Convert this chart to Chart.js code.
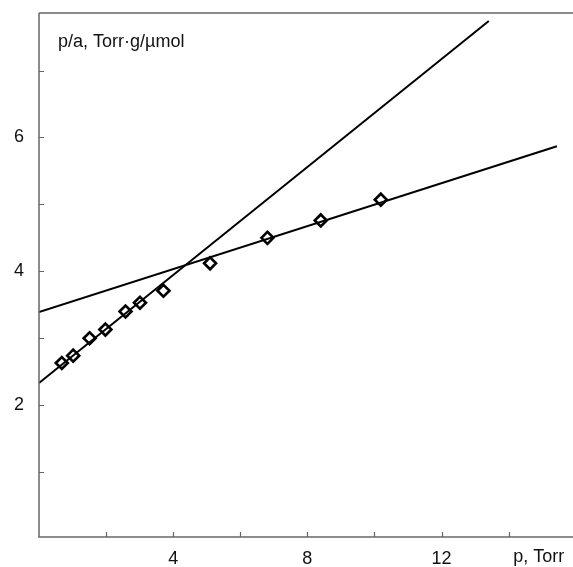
<!DOCTYPE html>
<html>
<head>
<meta charset="utf-8">
<script src="https://cdn.jsdelivr.net/npm/chart.js@4"></script>
<style>
html,body{margin:0;padding:0;background:#fff;}
#wrap{width:573px;height:567px;}
</style>
</head>
<body>
<div id="wrap"><canvas id="c" width="573" height="567"></canvas></div>
<script>
// Measured points (p, Torr ; p/a, Torr·g/µmol)
const pValues = [0.68, 1.02, 1.51, 1.98, 2.58, 3.01, 3.71, 5.10, 6.81, 8.40, 10.19];
const paValues = [2.63, 2.74, 3.00, 3.13, 3.40, 3.53, 3.71, 4.12, 4.50, 4.76, 5.07];
// Fitted straight lines (end points)
const line1X = [0, 13.41];
const line1Y = [2.33, 7.74];
const line2X = [0, 15.44];
const line2Y = [3.39, 5.87];
// Axes
const xTicks = [2, 4, 6, 8, 10, 12, 14];
const xTickLabels = ['', '4', '', '8', '', '12', ''];
const yTicks = [1, 2, 3, 4, 5, 6, 7];
const yTickLabels = ['', '2', '', '4', '', '6', ''];
const xMin = 0, xMax = 15.92, yMin = 0.03, yMax = 7.86;
const xAxisTitle = 'p, Torr';
const xAxisTitleAt = 14.9;
const yAxisTitle = 'p/a, Torr·g/µmol';

const toPts = (xs, ys) => xs.map((x, i) => ({x: x, y: ys[i]}));

const axesPlugin = {
  id: 'axesPlugin',
  afterDraw(chart) {
    const ctx = chart.ctx;
    const a = chart.chartArea;
    const xs = chart.scales.x, ys = chart.scales.y;
    ctx.save();
    ctx.strokeStyle = '#666';
    ctx.lineWidth = 1.5;
    ctx.beginPath();
    ctx.moveTo(a.left, a.top);
    ctx.lineTo(chart.width, a.top);
    ctx.moveTo(a.left, a.top);
    ctx.lineTo(a.left, a.bottom);
    ctx.lineTo(chart.width, a.bottom);
    ctx.stroke();
    ctx.lineWidth = 1.2;
    ctx.beginPath();
    xTicks.forEach(v => {
      const px = Math.round(xs.getPixelForValue(v)) + 0.5;
      ctx.moveTo(px, a.bottom);
      ctx.lineTo(px, a.bottom - 5);
    });
    yTicks.forEach(v => {
      const py = Math.round(ys.getPixelForValue(v)) + 0.5;
      ctx.moveTo(a.left, py);
      ctx.lineTo(a.left + 5, py);
    });
    ctx.stroke();
    ctx.fillStyle = '#111';
    ctx.font = '18px "Liberation Sans", Arial, sans-serif';
    ctx.textAlign = 'center';
    ctx.textBaseline = 'middle';
    xTicks.forEach((v, i) => {
      if (xTickLabels[i]) ctx.fillText(xTickLabels[i], xs.getPixelForValue(v), a.bottom + 22);
    });
    ctx.fillText(xAxisTitle, xs.getPixelForValue(xAxisTitleAt), a.bottom + 20);
    yTicks.forEach((v, i) => {
      if (yTickLabels[i]) ctx.fillText(yTickLabels[i], a.left - 20, ys.getPixelForValue(v));
    });
    ctx.textAlign = 'left';
    ctx.fillText(yAxisTitle, a.left + 19, a.top + 29);
    ctx.restore();
  }
};

new Chart(document.getElementById('c'), {
  type: 'scatter',
  data: {
    datasets: [
      {
        data: toPts(line1X, line1Y),
        showLine: true,
        borderColor: '#000',
        borderWidth: 2,
        pointRadius: 0,
        fill: false
      },
      {
        data: toPts(line2X, line2Y),
        showLine: true,
        borderColor: '#000',
        borderWidth: 2,
        pointRadius: 0,
        fill: false
      },
      {
        data: toPts(pValues, paValues),
        showLine: false,
        pointStyle: 'rectRot',
        pointRadius: 6,
        pointBackgroundColor: '#fff',
        pointBorderColor: '#000',
        pointBorderWidth: 2.6
      }
    ]
  },
  options: {
    responsive: false,
    animation: false,
    devicePixelRatio: 1,
    layout: {autoPadding: false, padding: {left: 39, top: 13, right: 0, bottom: 30}},
    plugins: {legend: {display: false}, tooltip: {enabled: false}},
    scales: {
      x: {type: 'linear', min: xMin, max: xMax, display: false},
      y: {type: 'linear', min: yMin, max: yMax, display: false}
    }
  },
  plugins: [axesPlugin]
});
</script>
</body>
</html>
